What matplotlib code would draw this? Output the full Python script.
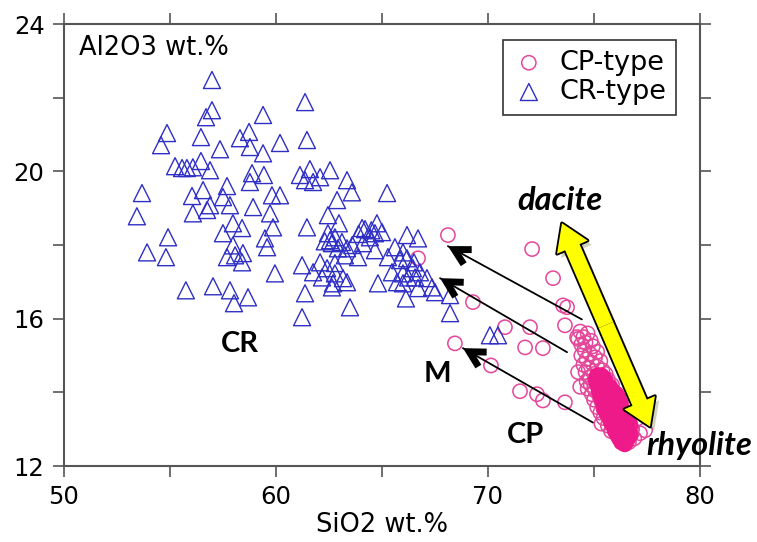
import matplotlib
matplotlib.use("Agg")
import matplotlib.pyplot as plt
import matplotlib.patheffects as pe
from matplotlib.patches import FancyArrowPatch
from matplotlib.ticker import MultipleLocator

# CR-type samples (SiO2, Al2O3 wt.%)
cr_sio2 = [56.98, 56.98, 56.70, 59.39, 54.86, 54.58, 56.46, 58.30, 58.73, 58.77,
           57.36, 59.39, 55.24, 55.57, 55.80, 56.08, 56.46, 56.89, 58.87, 58.77,
           59.43, 53.68, 56.56, 57.69, 56.04, 61.37, 61.46, 60.19, 61.13, 61.60,
           61.37, 61.75, 62.08, 62.55, 63.35, 63.58, 65.24, 59.81, 60.19, 62.88,
           53.44, 56.08, 56.75, 56.89, 57.50, 57.83, 58.92, 59.72, 54.91, 53.92,
           54.81, 57.50, 57.97, 58.40, 59.48, 59.58, 59.86, 57.97, 57.69, 58.07,
           58.44, 58.40, 55.75, 57.03, 57.83, 58.68, 58.02, 62.45, 62.97, 61.46,
           62.45, 62.78, 63.11, 62.64, 62.92, 63.35, 63.25, 64.06, 64.76, 65.00,
           64.43, 64.10, 64.67, 63.87, 66.18, 66.70, 65.61, 65.28, 65.85, 66.18,
           66.51, 61.23, 62.08, 61.75, 62.41, 62.78, 62.78, 62.17, 63.16, 62.69,
           63.35, 62.64, 59.95, 64.81, 65.71, 65.47, 65.99, 66.56, 66.70, 61.37,
           66.13, 63.49, 61.23, 65.99, 66.46, 66.23, 66.79, 67.12, 67.36, 67.50,
           68.21, 65.99, 68.21, 70.09, 70.47, 64.20, 64.67, 62.55, 63.90, 64.50,
           62.30, 63.60]
cr_al2o3 = [22.48, 21.66, 21.47, 21.53, 21.04, 20.71, 20.93, 20.90, 21.07, 20.66,
            20.60, 20.49, 20.14, 20.09, 20.09, 20.11, 20.28, 20.03, 19.95, 19.71,
            19.90, 19.41, 19.49, 19.60, 19.33, 21.88, 20.85, 20.77, 19.90, 20.06,
            19.76, 19.71, 19.84, 20.03, 19.76, 19.43, 19.41, 19.35, 19.35, 19.22,
            18.78, 18.86, 18.95, 19.08, 19.30, 19.08, 19.03, 18.86, 18.21, 17.80,
            17.67, 18.32, 18.59, 18.46, 18.18, 17.94, 18.48, 17.99, 17.67, 17.72,
            17.78, 17.53, 16.77, 16.88, 16.77, 16.58, 16.42, 18.81, 18.59, 18.48,
            18.32, 18.21, 18.08, 18.05, 17.91, 17.91, 17.72, 18.46, 18.59, 18.35,
            18.21, 18.05, 17.86, 17.67, 18.27, 18.18, 17.94, 17.67, 17.59, 17.64,
            17.53, 17.45, 17.53, 17.26, 17.37, 17.51, 17.23, 17.12, 17.10, 16.96,
            16.99, 16.85, 17.23, 16.96, 16.99, 17.26, 17.23, 17.12, 16.83, 16.69,
            16.55, 16.31, 16.04, 17.80, 17.37, 17.12, 17.26, 17.10, 16.85, 16.72,
            16.64, 16.96, 16.15, 15.55, 15.55, 18.43, 18.32, 18.13, 18.30, 18.40,
            18.10, 18.00]

# CP-type samples (scattered part)
cp_sio2 = [68.11, 72.08, 66.70, 73.07, 73.54, 73.73, 69.29, 70.80, 71.98, 73.63,
           68.44, 71.75, 72.59, 70.14, 71.51, 72.31, 72.59, 73.63, 74.20, 77.41,
           77.17,
           74.35, 74.70, 74.50, 74.25, 74.85, 74.60, 74.40,
           74.95, 74.55, 75.15, 74.80, 74.40, 75.05, 74.65, 75.30, 74.90, 74.50,
           75.15, 74.75, 75.40,
           74.60, 75.00, 75.55, 74.80, 75.25, 75.65, 74.65, 75.05, 75.45, 75.85,
           74.85, 75.30, 74.70, 75.65, 75.05, 75.45, 75.95, 74.25, 74.35,
           74.90, 75.25, 75.75, 75.55, 76.10, 75.00, 75.35, 75.85, 75.60, 76.25,
           75.15, 75.45, 76.00, 75.75, 76.40, 75.30, 75.60, 76.15, 75.90, 76.55,
           75.45, 75.75, 76.30, 76.05, 76.70, 75.35,
           75.65, 75.95, 76.45, 76.20, 76.80, 75.80, 76.55, 76.05, 76.35, 76.75,
           76.15, 76.50, 76.90, 76.30, 76.65, 76.45]
cp_al2o3 = [18.27, 17.89, 17.64, 17.10, 16.36, 16.31, 16.45, 15.77, 15.77, 15.82,
            15.33, 15.22, 15.20, 14.73, 14.03, 13.95, 13.78, 13.73, 15.50, 12.97,
            12.89,
            15.65, 15.60, 15.50, 15.45, 15.40, 15.35, 15.30,
            15.25, 15.15, 15.10, 15.05, 15.00, 14.95, 14.90, 14.85, 14.80, 14.75,
            14.70, 14.65, 14.60,
            14.55, 14.50, 14.50, 14.40, 14.40, 14.35, 14.30, 14.30, 14.25, 14.20,
            14.20, 14.15, 14.10, 14.10, 14.05, 14.00, 14.00, 14.55, 14.15,
            13.95, 13.90, 13.90, 13.85, 13.80, 13.80, 13.75, 13.70, 13.65, 13.60,
            13.60, 13.55, 13.55, 13.50, 13.45, 13.45, 13.40, 13.40, 13.35, 13.30,
            13.30, 13.25, 13.25, 13.20, 13.15, 13.15,
            13.10, 13.05, 13.05, 13.00, 13.00, 12.95, 12.90, 12.90, 12.85, 12.85,
            12.80, 12.75, 12.75, 12.70, 12.65, 12.62]

# CP-type samples (densely overlapping rhyolite core)
core_sio2 = [75.15, 75.35,
             75.10, 75.30, 75.50,
             75.15, 75.35, 75.55,
             75.20, 75.40, 75.60, 75.75,
             75.25, 75.45, 75.65, 75.85,
             75.30, 75.50, 75.70, 75.90, 76.05,
             75.35, 75.55, 75.75, 75.95, 76.15,
             75.45, 75.65, 75.85, 76.05, 76.25,
             75.50, 75.70, 75.90, 76.10, 76.30,
             75.60, 75.80, 76.00, 76.20, 76.40,
             75.70, 75.90, 76.10, 76.30, 76.50,
             75.80, 76.00, 76.20, 76.40, 76.60,
             75.90, 76.10, 76.30, 76.50, 76.70,
             76.00, 76.20, 76.40, 76.60,
             76.10, 76.30, 76.50, 76.70,
             76.20, 76.40, 76.60,
             76.30, 76.50,
             76.45]
core_al2o3 = [14.45, 14.45,
              14.35, 14.35, 14.35,
              14.25, 14.25, 14.25,
              14.15, 14.15, 14.15, 14.15,
              14.05, 14.05, 14.05, 14.05,
              13.95, 13.95, 13.95, 13.95, 13.95,
              13.85, 13.85, 13.85, 13.85, 13.85,
              13.70, 13.70, 13.70, 13.70, 13.70,
              13.55, 13.55, 13.55, 13.55, 13.55,
              13.45, 13.45, 13.45, 13.45, 13.45,
              13.35, 13.35, 13.35, 13.35, 13.35,
              13.20, 13.20, 13.20, 13.20, 13.20,
              13.10, 13.10, 13.10, 13.10, 13.10,
              12.95, 12.95, 12.95, 12.95,
              12.85, 12.85, 12.85, 12.85,
              12.75, 12.75, 12.75,
              12.65, 12.65,
              12.60]

# mixing arrows: (tail SiO2, tail Al2O3, head SiO2, head Al2O3)
mix_arrows = [(74.43, 15.98, 68.11, 17.97),
              (73.73, 15.09, 67.74, 17.10),
              (74.95, 13.18, 68.82, 15.20)]
trend_top = (73.49, 18.59)
trend_bottom = (77.64, 13.07)

blue = '#2f2fc6'
pink = '#e4479a'
deep_pink = '#ef1a8a'
gray = '#555555'
font = 'DejaVu Sans'

fig = plt.figure(figsize=(7.57, 5.42), dpi=100)
ax = fig.add_axes([0.0845, 0.1402, 0.8402, 0.8155])

ax.scatter(cp_sio2, cp_al2o3, s=105, marker='o', facecolors='none',
           edgecolors=pink, linewidths=1.1, label='CP-type', zorder=3)
ax.scatter(core_sio2, core_al2o3, s=95, marker='o', facecolors='none',
           edgecolors=deep_pink, linewidths=2.2, zorder=3)
ax.scatter(cr_sio2, cr_al2o3, s=150, marker='^', facecolors='none',
           edgecolors=blue, linewidths=1.0, label='CR-type', zorder=3)

# black mixing arrows: thin shaft + bold open head
for x0, y0, x1, y1 in mix_arrows:
    ax.annotate('', xy=(x1, y1), xytext=(x0, y0),
                arrowprops=dict(arrowstyle='-', color='black', lw=1.3,
                                shrinkA=0, shrinkB=0), zorder=4)
    fx = x1 + (x0 - x1) * 0.08
    fy = y1 + (y0 - y1) * 0.08
    ax.annotate('', xy=(x1, y1), xytext=(fx, fy),
                arrowprops=dict(arrowstyle='->,head_length=1.1,head_width=0.6',
                                color='black', lw=5, shrinkA=0, shrinkB=0,
                                joinstyle='miter', capstyle='butt'), zorder=4)

# yellow double arrow (dacite <-> rhyolite)
mid = ((trend_top[0] + trend_bottom[0]) / 2, (trend_top[1] + trend_bottom[1]) / 2)
style = 'simple,head_length=1.25,head_width=1.6,tail_width=0.75'
for end in (trend_top, trend_bottom):
    p = FancyArrowPatch(mid, end, arrowstyle=style, mutation_scale=15,
                        facecolor='#ffff00', edgecolor='black', lw=2.6,
                        shrinkA=0, shrinkB=0, zorder=5,
                        path_effects=[pe.SimplePatchShadow(offset=(3, -3), alpha=0.25),
                                      pe.Normal()])
    ax.add_patch(p)
for end in (trend_top, trend_bottom):
    p = FancyArrowPatch(mid, end, arrowstyle=style, mutation_scale=15,
                        facecolor='#ffff00', edgecolor='none', lw=0,
                        shrinkA=0, shrinkB=0, zorder=6)
    ax.add_patch(p)

lbl = dict(fontfamily='Lato', fontweight='bold', color='black', zorder=7)
ax.text(73.4, 19.2, 'dacite', style='italic', fontsize=23.5,
        ha='center', va='center', **lbl)
ax.text(77.45, 12.55, 'rhyolite', style='italic', fontsize=23.5,
        ha='left', va='center', clip_on=False, **lbl)
ax.text(58.3, 15.3, 'CR', fontsize=21, ha='center', va='center', **lbl)
ax.text(67.6, 14.5, 'M', fontsize=21, ha='center', va='center', **lbl)
ax.text(71.75, 12.85, 'CP', fontsize=21, ha='center', va='center', **lbl)

ax.text(50.7, 23.35, 'Al2O3 wt.%', fontfamily=font, fontsize=18.5,
        ha='left', va='center')

ax.set_xlim(50, 80)
ax.set_ylim(12, 24)
ax.xaxis.set_major_locator(MultipleLocator(10))
ax.xaxis.set_minor_locator(MultipleLocator(5))
ax.yaxis.set_major_locator(MultipleLocator(4))
ax.yaxis.set_minor_locator(MultipleLocator(2))
ax.tick_params(which='both', direction='out', length=8, width=1.2, color=gray,
               top=True, right=True, labelsize=17.5, pad=6)
for lab in ax.get_xticklabels() + ax.get_yticklabels():
    lab.set_fontfamily(font)
for s in ax.spines.values():
    s.set_color(gray)
    s.set_linewidth(1.5)

ax.set_xlabel('SiO2 wt.%', fontfamily=font, fontsize=18.5, labelpad=2)

leg = ax.legend(loc='upper right', bbox_to_anchor=(0.963, 0.963), frameon=True,
                fancybox=False, prop={'family': font, 'size': 19.5},
                handletextpad=0.55, borderpad=0.35, labelspacing=0.12,
                handlelength=1.2, borderaxespad=0)
leg.get_frame().set_edgecolor('black')
leg.get_frame().set_linewidth(1.2)

fig.savefig('out.png', dpi=100)
